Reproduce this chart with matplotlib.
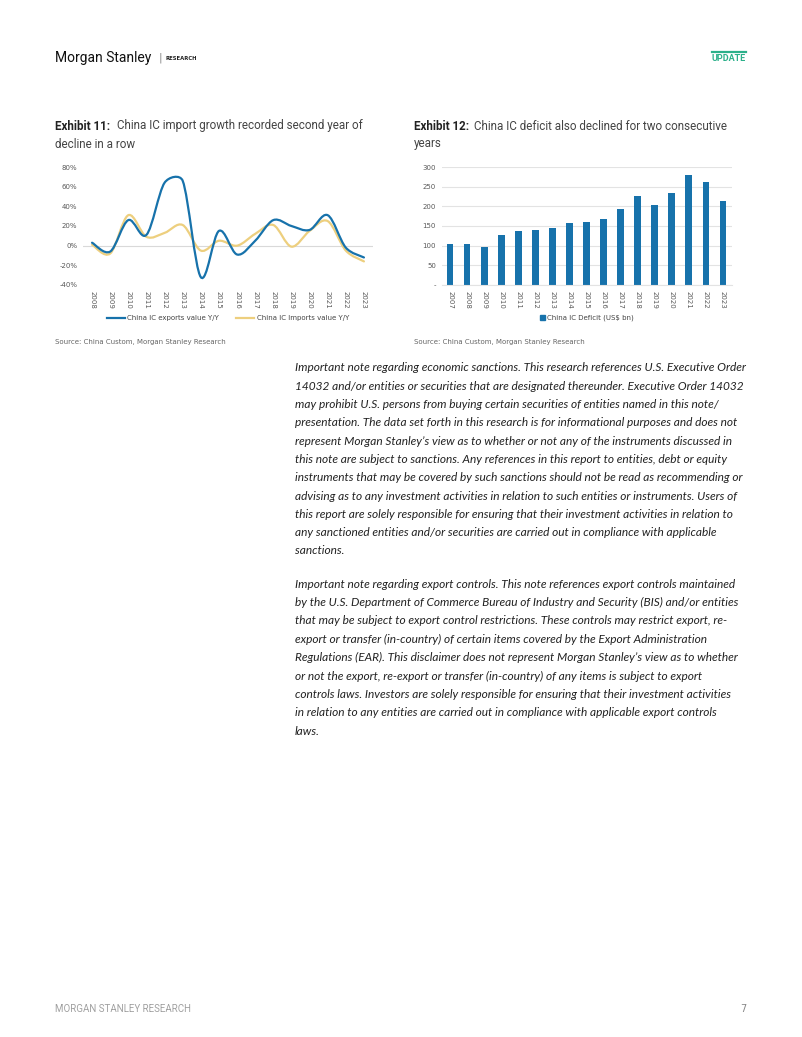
import numpy as np
import matplotlib
matplotlib.use('Agg')
import matplotlib.pyplot as plt
from matplotlib.path import Path
from matplotlib.patches import PathPatch
from matplotlib.lines import Line2D
from matplotlib.patches import Patch

# dados
anos_linha = ['2008', '2009', '2010', '2011', '2012', '2013', '2014', '2015',
              '2016', '2017', '2018', '2019', '2020', '2021', '2022', '2023']
exportacoes = [3, -6, 26, 11, 64, 66, -32, 15, -9, 5, 26, 20, 16, 31, -2, -12]
importacoes = [1, -8, 31, 9, 13, 21, -5, 5, 0, 12, 21, -1, 15, 25, -5, -16]

anos_barra = ['2007', '2008', '2009', '2010', '2011', '2012', '2013', '2014', '2015',
              '2016', '2017', '2018', '2019', '2020', '2021', '2022', '2023']
deficit = [105, 105, 97, 128, 138, 140, 144, 158, 161, 167, 193, 227, 204, 234, 280, 262, 214]

texto1 = [
    "Important note regarding economic sanctions. This research references U.S. Executive Order",
    "14032 and/or entities or securities that are designated thereunder. Executive Order 14032",
    "may prohibit U.S. persons from buying certain securities of entities named in this note/",
    "presentation. The data set forth in this research is for informational purposes and does not",
    "represent Morgan Stanley\u2019s view as to whether or not any of the instruments discussed in",
    "this note are subject to sanctions. Any references in this report to entities, debt or equity",
    "instruments that may be covered by such sanctions should not be read as recommending or",
    "advising as to any investment activities in relation to such entities or instruments. Users of",
    "this report are solely responsible for ensuring that their investment activities in relation to",
    "any sanctioned entities and/or securities are carried out in compliance with applicable",
    "sanctions.",
]
texto2 = [
    "Important note regarding export controls. This note references export controls maintained",
    "by the U.S. Department of Commerce Bureau of Industry and Security (BIS) and/or entities",
    "that may be subject to export control restrictions. These controls may restrict export, re-",
    "export or transfer (in-country) of certain items covered by the Export Administration",
    "Regulations (EAR). This disclaimer does not represent Morgan Stanley\u2019s view as to whether",
    "or not the export, re-export or transfer (in-country) of any items is subject to export",
    "controls laws. Investors are solely responsible for ensuring that their investment activities",
    "in relation to any entities are carried out in compliance with applicable export controls",
    "laws.",
]

W, H = 802, 1037
AZUL = '#1772ab'
OURO = '#edcf7e'


def fx(x):
    return x / W


def fy(y):
    return 1 - y / H


def eixo(fig, x0, y0, x1, y1):
    return fig.add_axes([fx(x0), fy(y1), fx(x1) - fx(x0), fy(y0) - fy(y1)])


def curva_suave(ax, ys, cor):
    # curva suavizada tipo excel (bezier), calculada em pixels
    xs = np.arange(len(ys), dtype=float)
    pts = ax.transData.transform(np.column_stack([xs, np.array(ys, dtype=float)]))
    verts = [pts[0]]
    codes = [Path.MOVETO]
    n = len(pts)
    for i in range(n - 1):
        p0 = pts[max(i - 1, 0)]
        p1 = pts[i]
        p2 = pts[i + 1]
        p3 = pts[min(i + 2, n - 1)]
        seg = np.hypot(*(p2 - p1))
        t1 = (p2 - p0) / 6
        t2 = (p3 - p1) / 6
        lim = 0.4 * seg
        if np.hypot(*t1) > lim:
            t1 = t1 * lim / np.hypot(*t1)
        if np.hypot(*t2) > lim:
            t2 = t2 * lim / np.hypot(*t2)
        verts += [p1 + t1, p2 - t2, p2]
        codes += [Path.CURVE4] * 3
    verts = ax.transData.inverted().transform(np.array(verts))
    patch = PathPatch(Path(verts, codes), facecolor='none', edgecolor=cor,
                      lw=1.6, transform=ax.transData, capstyle='round')
    ax.add_patch(patch)


fig = plt.figure(figsize=(W / 100, H / 100), dpi=100)

# cabecalho
fig.text(fx(55), fy(58), 'Morgan Stanley', fontsize=10, family='Roboto',
         va='center', ha='left', color='#111111')
fig.text(fx(159), fy(58), '|', fontsize=8, va='center', ha='left', color='#888888')
fig.text(fx(166), fy(58.5), 'RESEARCH', fontsize=3.8, weight='bold', va='center', ha='left',
         color='#222222')
fig.text(fx(746), fy(58.5), 'UPDATE', fontsize=6.5, weight='bold', va='center', ha='right',
         color='#2bb08a', family='Roboto')
fig.add_artist(Line2D([fx(712), fx(746)], [fy(51.5), fy(51.5)], color='#2bb08a', lw=1.6))

# titulos
tam = 8.4
fig.text(fx(55), fy(126), 'Exhibit 11:', fontsize=tam, weight='bold', va='center', ha='left',
         color='#222222', family='Roboto')
fig.text(fx(117), fy(126), 'China IC import growth recorded second year of', fontsize=tam,
         va='center', ha='left', color='#444444', family='Roboto')
fig.text(fx(55), fy(144), 'decline in a row', fontsize=tam, va='center', ha='left',
         color='#444444', family='Roboto')
fig.text(fx(414), fy(126), 'Exhibit 12:', fontsize=tam, weight='bold', va='center', ha='left',
         color='#222222', family='Roboto')
fig.text(fx(474), fy(126), 'China IC deficit also declined for two consecutive', fontsize=tam,
         va='center', ha='left', color='#444444', family='Roboto')
fig.text(fx(414), fy(144), 'years', fontsize=tam, va='center', ha='left',
         color='#444444', family='Roboto')

# grafico de linhas
ax1 = eixo(fig, 83, 167, 373, 285)
ax1.set_xlim(-0.5, len(anos_linha) - 0.5)
ax1.set_ylim(-40, 80)
curva_suave(ax1, importacoes, OURO)
curva_suave(ax1, exportacoes, AZUL)
ax1.set_yticks(range(-40, 81, 20))
ax1.set_yticklabels(['%d%%' % v for v in range(-40, 81, 20)])
ax1.set_xticks(range(len(anos_linha)))
ax1.set_xticklabels(anos_linha, rotation=-90)
ax1.axhline(0, color='#d9d9d9', lw=0.8, zorder=0)
for s in ax1.spines.values():
    s.set_visible(False)
ax1.tick_params(length=0, labelsize=5, colors='#595959', pad=4)
ax1.patch.set_alpha(0)
leg1 = ax1.legend(handles=[Line2D([], [], color=AZUL, lw=1.6, label='China IC exports value Y/Y'),
                           Line2D([], [], color=OURO, lw=1.6, label='China IC Imports value Y/Y')],
                  loc='center', bbox_to_anchor=(0.5, -0.28), ncol=2, frameon=False,
                  fontsize=5, handlelength=2.6, columnspacing=2.5, handletextpad=0.3)
for t in leg1.get_texts():
    t.set_color('#444444')

# grafico de barras
ax2 = eixo(fig, 441.5, 167, 731.5, 285)
ax2.bar(range(len(anos_barra)), deficit, width=0.4, color=AZUL, zorder=2)
ax2.set_xlim(-0.5, len(anos_barra) - 0.5)
ax2.set_ylim(0, 300)
ax2.set_yticks(range(0, 301, 50))
ax2.set_yticklabels(['-'] + [str(v) for v in range(50, 301, 50)])
ax2.set_xticks(range(len(anos_barra)))
ax2.set_xticklabels(anos_barra, rotation=-90)
ax2.grid(axis='y', color='#e3e3e3', lw=0.8, zorder=0)
for s in ax2.spines.values():
    s.set_visible(False)
ax2.spines['bottom'].set_visible(True)
ax2.spines['bottom'].set_color('#e3e3e3')
ax2.tick_params(length=0, labelsize=5, colors='#595959', pad=4)
leg2 = ax2.legend(handles=[Patch(color=AZUL, label='China IC Deficit (US$ bn)')],
                  loc='center', bbox_to_anchor=(0.5, -0.28), frameon=False, fontsize=5,
                  handlelength=0.7, handleheight=0.7, handletextpad=0.3)
for t in leg2.get_texts():
    t.set_color('#444444')

# fontes
fig.text(fx(55), fy(342), 'Source: China Custom, Morgan Stanley Research', fontsize=5,
         va='center', ha='left', color='#666666')
fig.text(fx(414), fy(342), 'Source: China Custom, Morgan Stanley Research', fontsize=5,
         va='center', ha='left', color='#666666')

# texto
for i, linha in enumerate(texto1):
    fig.text(fx(295), fy(368 + i * 18.3), linha, fontsize=8.6, style='italic', family='Lato',
             va='center', ha='left', color='#222222')
for i, linha in enumerate(texto2):
    fig.text(fx(295), fy(584 + i * 18.4), linha, fontsize=8.6, style='italic', family='Lato',
             va='center', ha='left', color='#222222')

# rodape
fig.text(fx(55), fy(1009), 'MORGAN STANLEY RESEARCH', fontsize=7, va='center', ha='left',
         color='#a0a0a0', family='Roboto')
fig.text(fx(746), fy(1009), '7', fontsize=7, va='center', ha='right', color='#888888')

fig.savefig('out.png', dpi=100)
